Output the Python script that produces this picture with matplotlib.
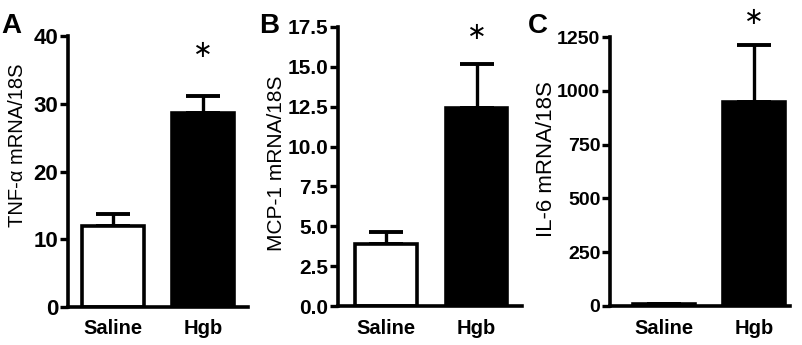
import matplotlib
matplotlib.use('Agg')
from matplotlib import pyplot as plt

groups = ['Saline', 'Hgb']

tnf_mean = [12.0, 28.7]
tnf_err = [1.7, 2.4]
mcp_mean = [3.9, 12.4]
mcp_err = [0.75, 2.75]
il6_mean = [8, 946]
il6_err = [2, 265]

panels = [
    ('A', 'TNF-\u03b1 mRNA/18S', tnf_mean, tnf_err, 40, [0, 10, 20, 30, 40], ['0', '10', '20', '30', '40'], 37.9),
    ('B', 'MCP-1 mRNA/18S', mcp_mean, mcp_err, 17.5, [0, 2.5, 5, 7.5, 10, 12.5, 15, 17.5],
     ['0.0', '2.5', '5.0', '7.5', '10.0', '12.5', '15.0', '17.5'], 17.2),
    ('C', 'IL-6 mRNA/18S', il6_mean, il6_err, 1250, [0, 250, 500, 750, 1000, 1250],
     ['0', '250', '500', '750', '1000', '1250'], 1345),
]

plt.rcParams['font.family'] = ['Liberation Sans', 'DejaVu Sans']

W, H = 802, 345
fig = plt.figure(figsize=(W / 100, H / 100), dpi=100)

# axes boxes in pixels: left, right, top(y max), bottom(y=0)
boxes = [(68, 248, 36, 307), (338, 522, 27, 306), (610, 790, 37, 306)]
xlims = [(-0.5, 1.5), (-0.53, 1.5), (-0.6, 1.4)]
tick_fs = [16, 15, 14]
label_fs = [14.5, 15, 16]
letter_x = [1, 259, 528]
label_pos = [(18, 145), (277, 163), (547, 159)]

for i, (letter, ylab, mean, err, ymax, ticks, ticklabels, star_y) in enumerate(panels):
    l, r, t, b = boxes[i]
    ax = fig.add_axes([l / W, 1 - b / H, (r - l) / W, (b - t) / H])
    x = [0, 1]
    ax.bar(x, mean, width=0.68, color=['white', 'black'], edgecolor='black', linewidth=2.6, zorder=2)
    for j in x:
        ax.errorbar([j], [mean[j]], yerr=[[0], [err[j]]], fmt='none', ecolor='black', elinewidth=2.4,
                    capsize=12, capthick=2.8, zorder=1)
    ax.set_xlim(*xlims[i])
    ax.set_ylim(0, ymax)
    ax.set_yticks(ticks)
    ax.set_yticklabels(ticklabels, fontsize=tick_fs[i], fontweight='bold')
    ax.set_xticks(x)
    ax.set_xticklabels(groups, fontsize=14.5, fontweight='bold')
    ax.tick_params(axis='y', length=6, width=2.4, direction='out', pad=1)
    ax.tick_params(axis='x', length=0, pad=9)
    for s in ['top', 'right']:
        ax.spines[s].set_visible(False)
    for s in ['left', 'bottom']:
        ax.spines[s].set_linewidth(2.6)
    ax.text(1, star_y, '\u2217', ha='center', va='center', fontsize=17, family='DejaVu Sans')

    fig.text(letter_x[i] / W, 1 - 13 / H, letter, ha='left', va='top', fontsize=20, fontweight='bold')
    lx, ly = label_pos[i]
    fig.text(lx / W, 1 - ly / H, ylab, rotation=90, ha='center', va='center', fontsize=label_fs[i])

fig.savefig('out.png', dpi=100)
